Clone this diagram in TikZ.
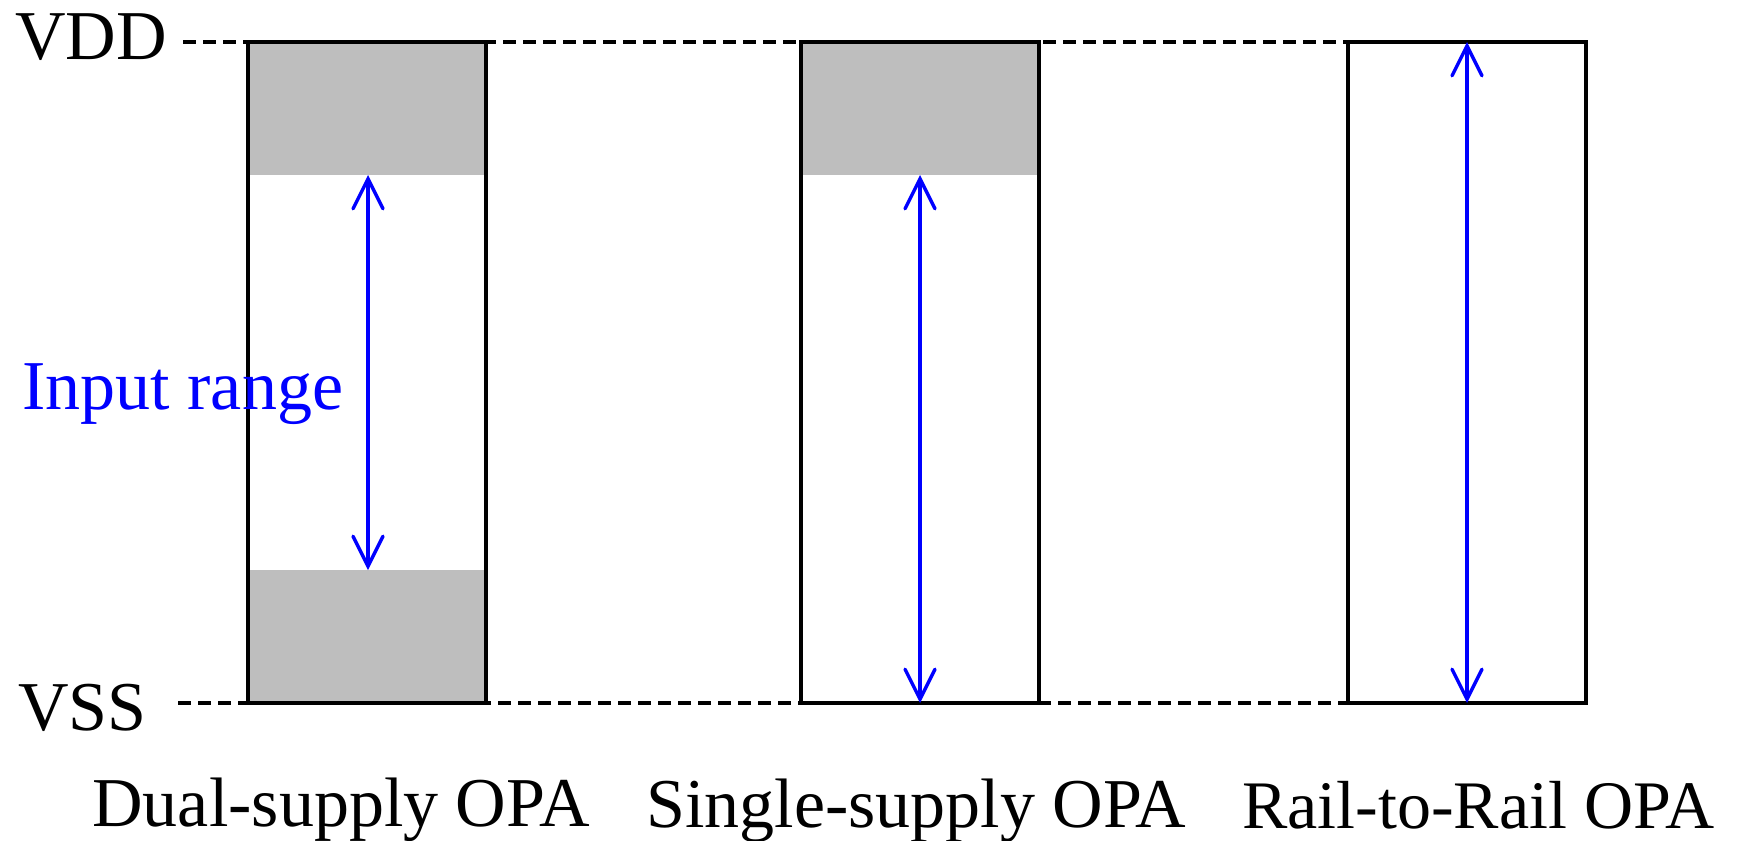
\documentclass[tikz,border=0pt]{standalone}
\usepackage{fontspec}
\setmainfont{Liberation Serif}
\usetikzlibrary{arrows.meta}
\definecolor{band}{RGB}{190,190,190}
\begin{document}
\begin{tikzpicture}[x=0.5pt,y=-0.5pt,
  lbl/.style={inner sep=0pt,anchor=base west,font=\fontsize{35}{40}\selectfont},
  opbox/.style={draw=black,line width=2pt,minimum width=119pt,minimum height=330.5pt,inner sep=0pt,outer sep=0pt},
  rail/.style={line width=1.6pt,dash pattern=on 6.5pt off 3.5pt},
  rng/.style={blue,line width=1.7pt,{Straight Barb[length=15pt,width=15pt,line cap=round]}-{Straight Barb[length=15pt,width=15pt,line cap=round]}}]
\useasboundingbox (0,0) rectangle (1737,841);
% gray bands
\fill[band] (248,42) rectangle (486,175);
\fill[band] (248,570) rectangle (486,703);
\fill[band] (801,42) rectangle (1039,175);
% boxes
\node[opbox] (b1) at (367,372.5) {};
\node[opbox] (b2) at (920,372.5) {};
\node[opbox] (b3) at (1467,372.5) {};
% rails
\coordinate (vddL) at (183,42);
\coordinate (vssL) at (178,703);
\draw[rail] (vddL) -- (b3.north west);
\draw[rail] (vssL) -- (b3.south west);
% redraw box outlines on top of rails
\node[opbox] at (b1) {};
\node[opbox] at (b2) {};
\node[opbox] at (b3) {};
% range arrows
\coordinate (a1t) at (368,175);
\coordinate (a1b) at (368,570);
\coordinate (a2t) at (920,175);
\coordinate (a2b) at (920,703);
\draw[rng] (a1t) -- (a1b);
\draw[rng] (a2t) -- (a2b);
\draw[rng] (b3.north) -- (b3.south);
% labels
\node[lbl] (vdd) at (15,59) {VDD};
\node[lbl] (vss) at (18,730) {VSS};
\node[lbl,text=blue] (inr) at (22,409) {Input range};
\node[lbl] (l1) at (92,826) {Dual-supply OPA};
\node[lbl] (l2) at (646,827) {Single-supply OPA};
\node[lbl,font=\fontsize{34}{40}\selectfont] (l3) at (1242,828) {Rail-to-Rail OPA};
\end{tikzpicture}
\end{document}
